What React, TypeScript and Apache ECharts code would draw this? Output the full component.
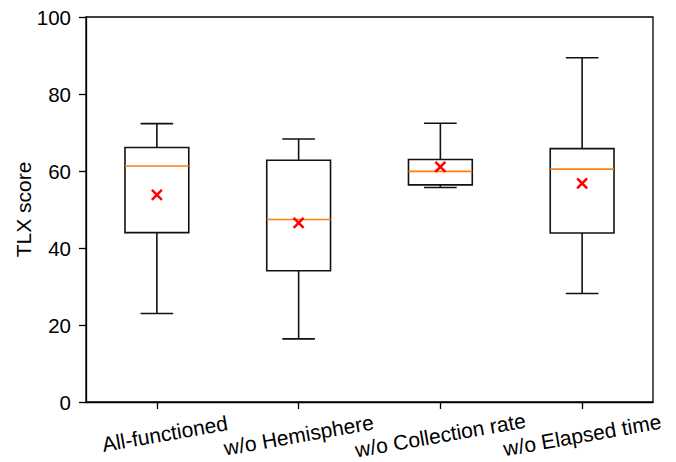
import React, { useEffect, useRef } from "react";
import * as echarts from "echarts";

const categories = ["All-functioned", "w/o Hemisphere", "w/o Collection rate", "w/o Elapsed time"];
const whiskerLow = [23.0, 16.4, 55.7, 28.2];
const q1Values = [44.0, 34.1, 56.4, 43.9];
const medians = [61.3, 47.4, 59.9, 60.5];
const q3Values = [66.1, 62.8, 63.0, 65.8];
const whiskerHigh = [72.3, 68.3, 72.4, 89.4];
const means = [53.8, 46.5, 61.1, 56.8];
const yTicks = { min: 0, max: 100, interval: 20 };

const FONT = "Liberation Sans, Arial, sans-serif";

export default function App() {
  const ref = useRef<HTMLDivElement>(null);
  useEffect(() => {
    if (!ref.current) return;
    document.body.style.margin = "0";
    const chart = echarts.init(ref.current, null, { renderer: "svg" });
    const data = categories.map((_, i) => [
      i,
      whiskerLow[i],
      q1Values[i],
      medians[i],
      q3Values[i],
      whiskerHigh[i],
      means[i],
    ]);
    const renderItem = (params: any, api: any) => {
      const idx = api.value(0);
      const band = api.size([1, 0])[0];
      const half = band * 0.225;
      const capHalf = band * 0.115;
      const pLow = api.coord([idx, api.value(1)]);
      const pQ1 = api.coord([idx, api.value(2)]);
      const pMed = api.coord([idx, api.value(3)]);
      const pQ3 = api.coord([idx, api.value(4)]);
      const pHigh = api.coord([idx, api.value(5)]);
      const pMean = api.coord([idx, api.value(6)]);
      const cx = pLow[0];
      const black = { stroke: "#111", lineWidth: 1.6, fill: null };
      const m = 5;
      return {
        type: "group",
        children: [
          { type: "line", shape: { x1: cx, y1: pLow[1], x2: cx, y2: pQ1[1] }, style: black },
          { type: "line", shape: { x1: cx, y1: pQ3[1], x2: cx, y2: pHigh[1] }, style: black },
          { type: "line", shape: { x1: cx - capHalf, y1: pLow[1], x2: cx + capHalf, y2: pLow[1] }, style: black },
          { type: "line", shape: { x1: cx - capHalf, y1: pHigh[1], x2: cx + capHalf, y2: pHigh[1] }, style: black },
          {
            type: "rect",
            shape: { x: cx - half, y: pQ3[1], width: half * 2, height: pQ1[1] - pQ3[1] },
            style: { stroke: "#111", lineWidth: 1.6, fill: "none" },
          },
          {
            type: "line",
            shape: { x1: cx - half, y1: pMed[1], x2: cx + half, y2: pMed[1] },
            style: { stroke: "#ff7f0e", lineWidth: 1.6 },
          },
          {
            type: "line",
            shape: { x1: pMean[0] - m, y1: pMean[1] - m, x2: pMean[0] + m, y2: pMean[1] + m },
            style: { stroke: "#ff0000", lineWidth: 2.5 },
          },
          {
            type: "line",
            shape: { x1: pMean[0] - m, y1: pMean[1] + m, x2: pMean[0] + m, y2: pMean[1] - m },
            style: { stroke: "#ff0000", lineWidth: 2.5 },
          },
        ],
      };
    };
    chart.setOption({
      animation: false,
      backgroundColor: "#fff",
      grid: {
        left: 86,
        right: 23,
        top: 17,
        bottom: 60,
        show: true,
        borderColor: "#000",
        borderWidth: 1.3,
        backgroundColor: "transparent",
      },
      xAxis: {
        type: "category",
        data: categories.map((c, i) =>
          i === 0
            ? { value: c, textStyle: { align: "center", verticalAlign: "middle", padding: [0, 0, 5, 16] } }
            : c
        ),
        boundaryGap: true,
        axisLine: { show: true, lineStyle: { color: "#000", width: 1.3 } },
        axisTick: { show: true, alignWithLabel: true, length: 7, lineStyle: { color: "#000", width: 1.3 } },
        axisLabel: {
          interval: 0,
          rotate: 10,
          align: "center",
          verticalAlign: "middle",
          margin: 33,
          fontSize: 21,
          color: "#000",
          fontFamily: FONT,
        },
        splitLine: { show: false },
      },
      yAxis: {
        type: "value",
        min: yTicks.min,
        max: yTicks.max,
        interval: yTicks.interval,
        name: "TLX score",
        nameLocation: "middle",
        nameGap: 52,
        nameMoveOverlap: false,
        nameTextStyle: { fontSize: 21, color: "#000", fontFamily: FONT },
        axisLine: { show: true, lineStyle: { color: "#000", width: 1.3 } },
        axisTick: { show: true, length: 7, lineStyle: { color: "#000", width: 1.3 } },
        axisLabel: { fontSize: 20.5, color: "#000", fontFamily: FONT, margin: 15 },
        splitLine: { show: false },
      },
      series: [
        {
          type: "custom",
          renderItem,
          data,
          encode: { x: 0, y: [1, 2, 3, 4, 5, 6] },
          clip: false,
        },
      ],
    });
    return () => chart.dispose();
  }, []);
  return <div ref={ref} style={{ width: 676, height: 462 }} />;
}
